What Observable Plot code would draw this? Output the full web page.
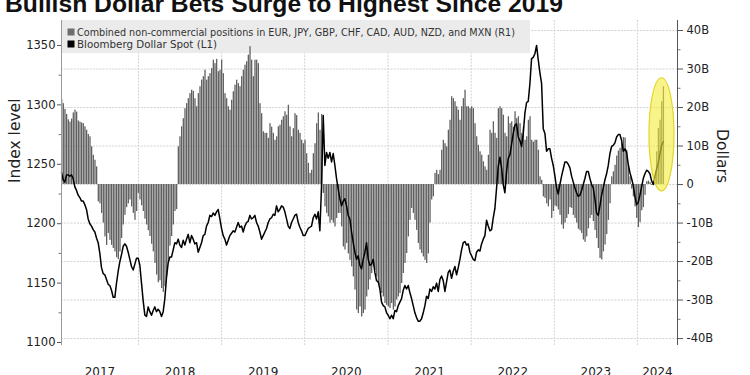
<!DOCTYPE html>
<html><head><meta charset="utf-8">
<script src="https://cdn.jsdelivr.net/npm/d3@7"></script>
<script src="https://cdn.jsdelivr.net/npm/@observablehq/plot@0.6"></script>
<style>
body{margin:0;background:#fff;}
#chart{position:relative;width:750px;height:375px;overflow:hidden;background:#fff;}
</style>
</head><body><div id="chart"></div>
<script>
// ---------- data ----------
const title = "Bullish Dollar Bets Surge to Highest Since 2019";
const seriesNames = [
  "Combined non-commercial positions in EUR, JPY, GBP, CHF, CAD, AUD, NZD, and MXN (R1)",
  "Bloomberg Dollar Spot (L1)"
];
const leftAxisLabel = "Index level";
const rightAxisLabel = "Dollars";
const firstSample = "2017-01-28";   // first sampled week
const sampleStepDays = 7.32;        // spacing of the readings
const xStart = "2017-01-28", xEnd = "2024-06-25";
const years = [2017, 2018, 2019, 2020, 2021, 2022, 2023, 2024];
const leftTicks = [1100, 1150, 1200, 1250, 1300, 1350];
const leftMinorTicks = [1125, 1175, 1225, 1275, 1325];
const rightTicks = [-40, -30, -20, -10, 0, 10, 20, 30, 40];
const rightMinorTicks = [-35, -25, -15, -5, 5, 15, 25, 35];
const leftDomain = [1097.5, 1371];
const rightDomain = [-41.8, 42.6];

// net non-commercial positions, billions of dollars
const positionsB = [
  22.1, 21, 19.5, 18.2, 16.8, 16.2, 17, 18.6, 19.3, 18.8,
  16.5, 16.2, 16, 15.8, 15, 14.1, 13, 12.4, 9.8, 7.6,
  6.3, 4.6,
  -4.5, -5, -7.5, -10, -13.6, -15.8, -12.7, -14.5, -15.8, -16.6,
  -17.5, -19, -19.5, -17.5, -14, -10.5, -8, -6, -5, -4,
  -5.8, -7.5, -9.3, -7, -2.3, -4, -5.5, -7, -9, -10.5,
  -12, -13.5, -15.5, -17.5, -20.5, -23.5, -25.5, -25, -27, -28,
  -26.5, -23.8, -20.5, -16, -13.5, -10.5, -7, -6.5,
  9.8, 12.4, 15, 17.1, 19.7, 21, 22.3, 23.6, 24.5, 24.2,
  22.3, 20.2, 23.6, 25.4, 27.1, 28, 29.7, 27.1, 28, 28.8,
  30.1, 32.3, 31.4, 32.5, 29.3, 29.7, 32.3, 28.8, 23.6, 22.3,
  20.2, 19.3, 21.9, 24.1, 25.8, 27.1, 26.2, 25.4, 28, 29.7,
  31, 31.9, 33.6, 35.8, 32.3, 28, 32.3, 32.3, 31.4, 21,
  18.4, 13.7, 13.3, 13.3, 12, 15.8, 14.9, 13.3, 11.5, 12.4,
  15, 15.4, 16.7, 17.6, 18.9, 18, 20.6, 15, 12.4, 14.5,
  18.4, 17.9, 14.1, 13.3, 11.5, 10.6,
  11.5, 8, 5.5, 2.9, 3.7, 8, 10.6, 15.8, 18.6, 14.1, 18.2,
  -2.3, -5.8, -7.5, -8.4, -10, -9.3, -10, -11, -8.8, -7.5,
  -7.5, -11, -16.2, -17, -15.3, -18, -19.7, -21.4, -24, -27.4,
  -32.6, -33.5, -31.8, -34.4, -33.5, -32.6, -29.2, -27.4, -24.8, -23.1,
  -21.4, -22.3, -24, -25.7, -27.4, -28.3, -29.2, -30.9, -31.4, -31.8,
  -32.2, -30.9, -32.6, -31.8, -30, -29.2, -28.3, -25.7, -23.1, -20.5,
  -17.9, -13.6, -9.3, -6.2, -7.5, -9.3, -11.9, -15.3, -17, -17.9,
  -18.8, -19.7, -20.5, -18,
  -10, -4, -3.2, 2.9, 3.7, 2.6, 3.7, 8.9, 11.5, 10.6,
  9.8, 14.1, 16.7, 22.8, 22.3, 21.5, 20.2, 19.3, 16.7, 20.2,
  22.3, 24.5, 20.2, 20.2, 19.7, 20.2, 19.7, 15.8, 12.4, 10.2,
  8.5, 7.6, 5.9, 4.6, 3.7, 7.6, 14.1, 13.3, 16.3, 13.3,
  12, 19.7, 20.2, 19.7, 18, 13.3, 12.4, 17.6, 15.8, 16.3,
  14.9, 18.9, 17.1, 17.6, 15.8, 13.3, 14.9, 11.5, 12.4, 16.7,
  17.6, 11.5, 11, 11.5, 11.5, 8.9, 2, 1.1, -3.2, -3.6,
  -5, -5.8, -4, -8.8,
  -7, -5.6, -5.8, -6.6, -8, -10.5, -11.6, -10, -8.8, -7.8,
  -6, -6.2, -8, -8.8, -10, -11.6, -12, -12.7, -14.4, -15,
  -13.6, -11.5, -8.8, -8, -9.6, -11.9, -14, -16.6, -19.2, -19.6,
  -17.5, -15.7, -13, -9.3, -5, 2, 3.3, 5, 7.4, 8.7,
  9.4, 10.6, 12.2, 12.1, 8.9, 4.6, 2, -1.2, -3.2, -5.8,
  -8.8, -11.2, -9.9, -6.8, -6, -2.8, 0.7, 0.9, 0.5, -0.2,
  -0.2, 2, 8.5, 14.5, 16.7, 21.5, 25.4
];

// Bloomberg Dollar Spot index level
const dollarSpot = [
  1243, 1237, 1235, 1241, 1241, 1240, 1241, 1238, 1231, 1228,
  1224, 1222, 1219, 1219, 1216, 1212, 1204, 1200, 1198, 1195,
  1193, 1188, 1184, 1175, 1163, 1158, 1157, 1153, 1149, 1148,
  1144, 1138, 1138, 1150, 1160, 1168, 1174, 1181, 1183, 1181,
  1176, 1170, 1164, 1161, 1166, 1171, 1171, 1165, 1150, 1135,
  1123, 1122, 1130, 1126, 1123, 1127, 1130, 1126, 1128, 1126,
  1122, 1126, 1137, 1155, 1167, 1172, 1172, 1178, 1184, 1183,
  1187, 1182, 1180, 1186, 1182, 1187, 1191, 1184, 1190, 1187,
  1183, 1184, 1176, 1180, 1184, 1190, 1191, 1198, 1201, 1207,
  1206, 1209, 1207, 1210, 1212, 1204, 1196, 1190, 1187, 1182,
  1186, 1190, 1192, 1194, 1193, 1197, 1201, 1197, 1198, 1193,
  1198, 1201, 1202, 1207, 1204, 1205, 1207, 1201, 1198, 1193,
  1187, 1190, 1193, 1196, 1201, 1204, 1205, 1208, 1207, 1215,
  1210, 1212, 1215, 1214, 1210, 1204, 1198, 1196, 1201, 1204,
  1207, 1208, 1201, 1197, 1194, 1190,
  1190, 1193, 1196, 1197, 1198, 1205, 1208, 1204, 1210, 1194,
  1232, 1291, 1249, 1260, 1255, 1260, 1252, 1259, 1249, 1238,
  1229, 1221, 1215, 1219, 1221, 1215, 1207, 1204, 1193, 1184,
  1176, 1170, 1173, 1165, 1162, 1170, 1176, 1184, 1170, 1165,
  1166, 1170, 1159, 1152, 1151, 1145, 1134, 1131, 1130, 1125,
  1123, 1120, 1123, 1120, 1127, 1126, 1131, 1134, 1137, 1144,
  1148, 1145, 1148, 1142, 1137, 1131, 1125, 1121, 1118, 1118,
  1120, 1125, 1131, 1139, 1137,
  1145, 1143, 1147, 1145, 1150, 1143, 1153, 1156, 1152, 1143,
  1151, 1159, 1161, 1154, 1160, 1164, 1157, 1163, 1170, 1178,
  1184, 1185, 1182, 1183, 1176, 1173, 1170, 1169, 1176, 1178,
  1177, 1183, 1187, 1190, 1203, 1198, 1194, 1195, 1205, 1213,
  1230, 1248, 1256, 1247, 1233, 1226, 1244, 1255, 1258, 1267,
  1276, 1283, 1284, 1273, 1270, 1265, 1276, 1293, 1302, 1303,
  1318, 1339, 1340, 1343, 1350, 1338, 1327, 1318, 1280, 1276,
  1261, 1263, 1263, 1255,
  1249, 1240, 1230, 1225, 1233, 1240, 1246, 1252, 1252, 1250,
  1247, 1240, 1235, 1230, 1226, 1223, 1224, 1228, 1233, 1238,
  1244, 1244, 1238, 1233, 1230, 1221, 1209, 1207, 1215, 1224,
  1230, 1237, 1242, 1249, 1259, 1265, 1266, 1268, 1273, 1275,
  1275, 1270, 1261, 1263, 1260, 1250, 1243, 1238, 1232, 1223,
  1216, 1218, 1224, 1231, 1238, 1242, 1245, 1244, 1242, 1236,
  1233, 1240, 1246, 1251, 1259, 1266, 1269
];

// highlighted span (annotation ellipse), in dollars (R1 scale)
const highlightRange = [-1.8, 27.6];

// ---------- build ----------
const DAY = 864e5;
const t0 = Date.parse(firstSample);
const dateAt = i => new Date(t0 + i * sampleStepDays * DAY);
const bars = positionsB.map((v, i) => ({x1: dateAt(i), x2: new Date(+dateAt(i) + 5.6 * DAY), v}));
const line = dollarSpot.map((v, i) => ({date: dateAt(i), v}));
const toRight = d3.scaleLinear().domain(leftDomain).range(rightDomain);
const xDomain = [new Date(xStart), new Date(xEnd)];
const yearStarts = years.slice(1).map(y => new Date(Date.UTC(y, 0, 1)));
const yearMids = years.map(y => {
  const a = Math.max(+new Date(Date.UTC(y, 0, 1)), +xDomain[0]);
  const b = Math.min(+new Date(Date.UTC(y + 1, 0, 1)), +xDomain[1]);
  return {year: String(y), date: new Date((a + b) / 2)};
});

const FONT = "DejaVu Sans, Verdana, sans-serif";
const grid = {stroke: "#d2d2d2", strokeOpacity: 1, strokeDasharray: "2,1.2", strokeWidth: 1};

const chart = Plot.plot({
  width: 750, height: 375,
  marginLeft: 61, marginRight: 73, marginTop: 20, marginBottom: 30,
  style: {fontFamily: FONT, fontSize: "11px", color: "#222", background: "transparent"},
  x: {type: "utc", domain: xDomain, axis: null},
  y: {domain: rightDomain, axis: null},
  marks: [
    Plot.ruleY(rightTicks, {...grid}),
    Plot.ruleX(yearStarts, {...grid}),
    Plot.rectY(bars, {x1: "x1", x2: "x2", y: "v", fill: "#5f5f5f"}),
    Plot.line(line, {x: "date", y: d => toRight(d.v), stroke: "#000", strokeWidth: 1.5, curve: "linear"}),
    Plot.ruleX([xDomain[0]], {stroke: "#9a9a9a", strokeWidth: 1}),
    Plot.ruleX([xDomain[1]], {stroke: "#555", strokeWidth: 1}),
    Plot.axisY(leftTicks.map(toRight), {anchor: "left", tickSize: 4, tickPadding: 2, stroke: "#555",
      tickFormat: d => String(Math.round(toRight.invert(d))), fontSize: 11.5, label: null}),
    Plot.axisY(leftMinorTicks.map(toRight), {anchor: "left", tickSize: 2.5, stroke: "#777", tickFormat: () => "", label: null}),
    Plot.axisY(rightTicks, {anchor: "right", tickSize: 5, tickPadding: 4, stroke: "#555",
      tickFormat: d => d === 0 ? "0" : `${d}B`, fontSize: 11.5, label: null}),
    Plot.axisY(rightMinorTicks, {anchor: "right", tickSize: 2.5, stroke: "#777", tickFormat: () => "", label: null}),
    Plot.text(yearMids, {x: "date", text: "year", frameAnchor: "bottom", lineAnchor: "top", dy: 22, fontSize: 12, fill: "#222"}),
    Plot.text([leftAxisLabel], {text: d => d, frameAnchor: "left", rotate: -90, dx: -46, fontSize: 15.5, fill: "#222"}),
    Plot.text([rightAxisLabel], {text: d => d, frameAnchor: "right", rotate: 90, dx: 44, fontSize: 15.5, fill: "#222"})
  ]
});
document.getElementById("chart").appendChild(chart);

// ---------- annotations: legend box, highlight, title ----------
const svg = d3.select(chart);
const xs = chart.scale("x"), ys = chart.scale("y");
const X = v => xs.apply(v), Y = v => ys.apply(v);
const barsG = svg.select('g[aria-label="rect"]').node();

const leg = svg.insert("g", () => barsG).attr("text-anchor", "start");
leg.append("rect").attr("x", 61.5).attr("y", 20).attr("width", 468.5).attr("height", 33).attr("fill", "#ebebeb");
const rows = [{y: 32, color: "#6e6e6e", len: 438}, {y: 44, color: "#000", len: 140}];
rows.forEach((r, i) => {
  leg.append("rect").attr("x", 67.5).attr("y", r.y - 3.5).attr("width", 7).attr("height", 7).attr("fill", r.color);
  leg.append("text").attr("x", 77).attr("y", r.y).attr("dy", "0.35em").attr("text-anchor", "start")
    .attr("font-family", FONT).attr("font-size", 10.5).attr("fill", "#333")
    .attr("textLength", r.len).attr("lengthAdjust", "spacingAndGlyphs").text(seriesNames[i]);
});

const last = line[line.length - 1].date;
const yTop = Y(highlightRange[1]), yBot = Y(highlightRange[0]);
svg.append("ellipse").attr("cx", X(last) - 1.3).attr("cy", (yTop + yBot) / 2)
  .attr("rx", 12.5).attr("ry", (yBot - yTop) / 2)
  .attr("fill", "#f3ec3c").attr("fill-opacity", 0.6)
  .attr("stroke", "#e2d62a").attr("stroke-width", 1.2);

svg.append("text").attr("x", 5).attr("y", 12).attr("text-anchor", "start")
  .attr("font-family", "Liberation Sans, Arial, sans-serif").attr("font-weight", "bold")
  .attr("font-size", 23).attr("fill", "#111").attr("textLength", 558).attr("lengthAdjust", "spacingAndGlyphs")
  .text(title);
</script>
</body></html>
